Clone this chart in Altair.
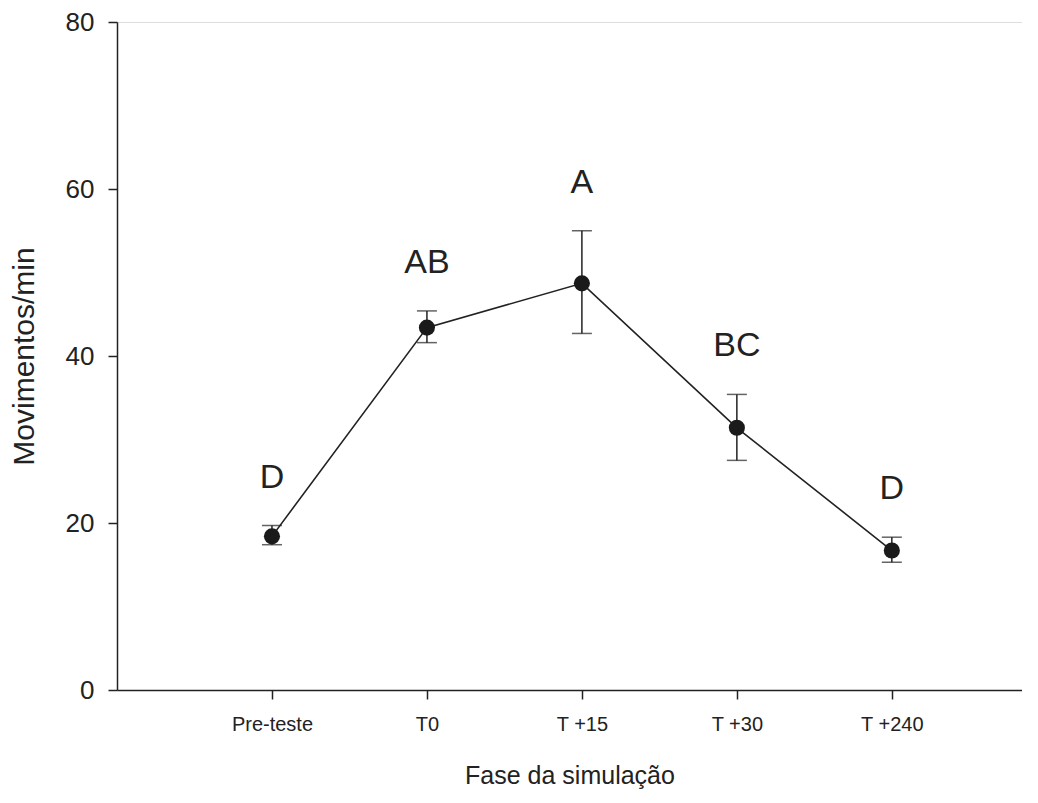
import altair as alt
import pandas as pd

categories = ["Pre-teste", "T0", "T +15", "T +30", "T +240"]
means = [18.4, 43.4, 48.7, 31.4, 16.7]
err_low = [17.4, 41.6, 42.7, 27.5, 15.3]
err_high = [19.7, 45.4, 55.0, 35.4, 18.3]
letters = ["D", "AB", "A", "BC", "D"]

df = pd.DataFrame({
    "idx": list(range(1, len(categories) + 1)),
    "fase": categories,
    "mean": means,
    "lo": err_low,
    "hi": err_high,
    "letter": letters,
})

label_expr = "[" + ",".join("'" + c + "'" for c in categories) + "][datum.value - 1]"

INK = "#222222"
FONT = "Liberation Sans"

x_enc = alt.X(
    "idx:Q",
    scale=alt.Scale(domain=[0, 5.84], nice=False, zero=False),
    axis=alt.Axis(
        values=[1, 2, 3, 4, 5],
        labelExpr=label_expr,
        title="Fase da simulação",
        grid=False,
        tickSize=9,
        labelFontSize=20,
        labelFont=FONT,
        labelPadding=15,
        titleFontSize=25,
        titleFont=FONT,
        titleFontWeight="normal",
        titlePadding=29,
        domainColor=INK,
        tickColor=INK,
        labelColor=INK,
        titleColor=INK,
        domainWidth=1.5,
        tickWidth=1.5,
    ),
)

y_scale = alt.Scale(domain=[0, 80], nice=False)
y_axis = alt.Axis(
    values=[0, 20, 40, 60, 80],
    title="Movimentos/min",
    grid=False,
    tickSize=9,
    labelFontSize=26,
    labelFont=FONT,
    labelPadding=14,
    titleFontSize=30,
    titleFont=FONT,
    titleFontWeight="normal",
    titlePadding=26,
    domainColor=INK,
    tickColor=INK,
    labelColor=INK,
    titleColor=INK,
    domainWidth=1.5,
    tickWidth=1.5,
)

base = alt.Chart(df)

line = base.mark_line(color=INK, strokeWidth=1.6).encode(
    x=x_enc, y=alt.Y("mean:Q", scale=y_scale, axis=y_axis)
)

rules = base.mark_rule(color=INK, strokeWidth=1.5).encode(
    x="idx:Q", y="lo:Q", y2="hi:Q"
)

caps_hi = base.mark_tick(orient="horizontal", color=INK, size=20, thickness=1.5).encode(
    x="idx:Q", y="hi:Q"
)
caps_lo = base.mark_tick(orient="horizontal", color=INK, size=20, thickness=1.5).encode(
    x="idx:Q", y="lo:Q"
)

points = base.mark_point(filled=True, shape="circle", size=260, color="#1a1a1a", opacity=1).encode(
    x="idx:Q", y="mean:Q"
)

labels = base.mark_text(
    baseline="bottom", dy=-31, fontSize=34, font=FONT, color=INK
).encode(x="idx:Q", y="hi:Q", text="letter:N")

chart = (
    alt.layer(line, rules, caps_hi, caps_lo, points, labels)
    .properties(
        width=905,
        height=668,
        autosize=alt.AutoSizeParams(type="none"),
        padding={"left": 109, "top": 14, "right": 0, "bottom": 102},
    )
    .configure_view(stroke=None)
    .configure(background="white")
)

chart.save("out.html", embed_options={"renderer": "svg", "actions": False})
